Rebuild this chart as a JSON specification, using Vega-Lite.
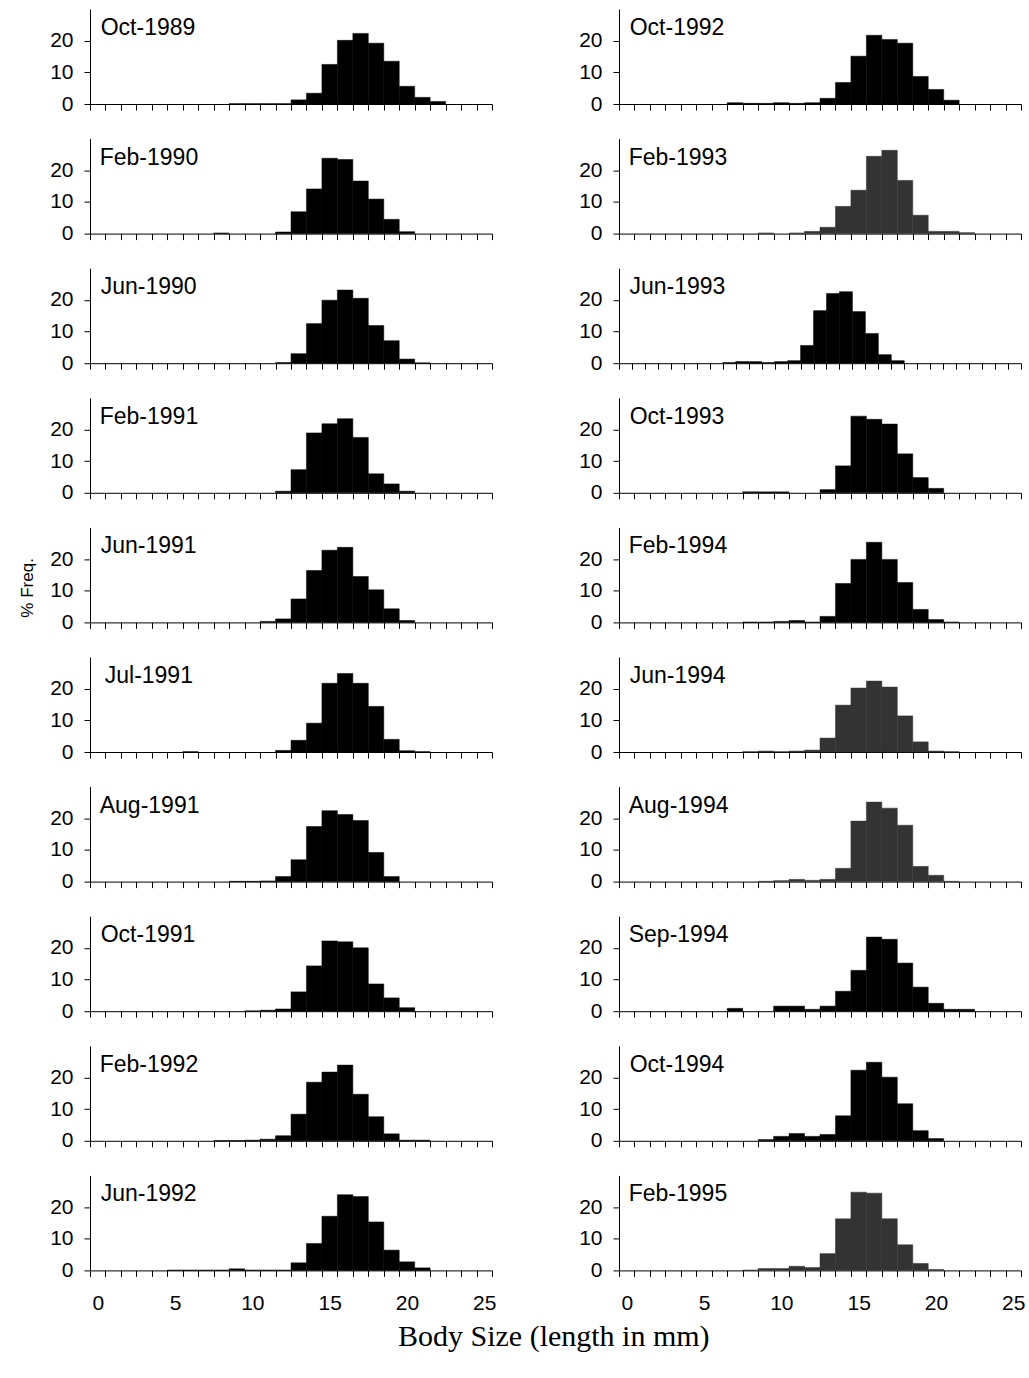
{
"$schema": "https://vega.github.io/schema/vega-lite/v6.json",
"padding": {"left": 18, "top": 9, "right": 5, "bottom": 5},
"autosize": {"type": "pad"},
"background": "white",
"bounds": "flush",
"columns": 2,
"spacing": {"row": 34.6, "column": 127},
"title": {"text": "Body Size (length in mm)", "orient": "bottom", "anchor": "middle", "font": "Liberation Serif", "fontSize": 30, "fontWeight": "normal", "color": "#000", "offset": 8, "dx": 32},
"datasets": {
"labels": [{"panel":"Oct-1989"},{"panel":"Feb-1990"},{"panel":"Jun-1990"},{"panel":"Feb-1991"},{"panel":"Jun-1991"},{"panel":"Jul-1991"},{"panel":"Aug-1991"},{"panel":"Oct-1991"},{"panel":"Feb-1992"},{"panel":"Jun-1992"},{"panel":"Oct-1992"},{"panel":"Feb-1993"},{"panel":"Jun-1993"},{"panel":"Oct-1993"},{"panel":"Feb-1994"},{"panel":"Jun-1994"},{"panel":"Aug-1994"},{"panel":"Sep-1994"},{"panel":"Oct-1994"},{"panel":"Feb-1995"}],
"hist": [
{"panel":"Oct-1989","size":9,"pct":0.1},{"panel":"Oct-1989","size":10,"pct":0.1},{"panel":"Oct-1989","size":11,"pct":0.1},{"panel":"Oct-1989","size":12,"pct":0.1},{"panel":"Oct-1989","size":13,"pct":1.3},{"panel":"Oct-1989","size":14,"pct":3.4},{"panel":"Oct-1989","size":15,"pct":12.5},{"panel":"Oct-1989","size":16,"pct":20.1},{"panel":"Oct-1989","size":17,"pct":22.3},{"panel":"Oct-1989","size":18,"pct":19.2},{"panel":"Oct-1989","size":19,"pct":13.5},{"panel":"Oct-1989","size":20,"pct":5.6},{"panel":"Oct-1989","size":21,"pct":2.1},{"panel":"Oct-1989","size":22,"pct":0.8},
{"panel":"Feb-1990","size":8,"pct":0.2},{"panel":"Feb-1990","size":12,"pct":0.5},{"panel":"Feb-1990","size":13,"pct":6.9},{"panel":"Feb-1990","size":14,"pct":14.1},{"panel":"Feb-1990","size":15,"pct":23.8},{"panel":"Feb-1990","size":16,"pct":23.4},{"panel":"Feb-1990","size":17,"pct":16.6},{"panel":"Feb-1990","size":18,"pct":10.9},{"panel":"Feb-1990","size":19,"pct":4.5},{"panel":"Feb-1990","size":20,"pct":0.6},
{"panel":"Jun-1990","size":12,"pct":0.2},{"panel":"Jun-1990","size":13,"pct":3.0},{"panel":"Jun-1990","size":14,"pct":12.5},{"panel":"Jun-1990","size":15,"pct":19.9},{"panel":"Jun-1990","size":16,"pct":23.1},{"panel":"Jun-1990","size":17,"pct":20.5},{"panel":"Jun-1990","size":18,"pct":11.9},{"panel":"Jun-1990","size":19,"pct":7.1},{"panel":"Jun-1990","size":20,"pct":1.3},{"panel":"Jun-1990","size":21,"pct":0.1},
{"panel":"Feb-1991","size":12,"pct":0.5},{"panel":"Feb-1991","size":13,"pct":7.3},{"panel":"Feb-1991","size":14,"pct":18.9},{"panel":"Feb-1991","size":15,"pct":21.8},{"panel":"Feb-1991","size":16,"pct":23.4},{"panel":"Feb-1991","size":17,"pct":17.5},{"panel":"Feb-1991","size":18,"pct":6.0},{"panel":"Feb-1991","size":19,"pct":2.8},{"panel":"Feb-1991","size":20,"pct":0.5},
{"panel":"Jun-1991","size":11,"pct":0.3},{"panel":"Jun-1991","size":12,"pct":1.1},{"panel":"Jun-1991","size":13,"pct":7.4},{"panel":"Jun-1991","size":14,"pct":16.4},{"panel":"Jun-1991","size":15,"pct":22.8},{"panel":"Jun-1991","size":16,"pct":23.7},{"panel":"Jun-1991","size":17,"pct":14.5},{"panel":"Jun-1991","size":18,"pct":10.3},{"panel":"Jun-1991","size":19,"pct":4.3},{"panel":"Jun-1991","size":20,"pct":0.6},
{"panel":"Jul-1991","size":6,"pct":0.1},{"panel":"Jul-1991","size":12,"pct":0.5},{"panel":"Jul-1991","size":13,"pct":3.7},{"panel":"Jul-1991","size":14,"pct":9.1},{"panel":"Jul-1991","size":15,"pct":21.7},{"panel":"Jul-1991","size":16,"pct":24.8},{"panel":"Jul-1991","size":17,"pct":21.7},{"panel":"Jul-1991","size":18,"pct":14.4},{"panel":"Jul-1991","size":19,"pct":4.0},{"panel":"Jul-1991","size":20,"pct":0.4},{"panel":"Jul-1991","size":21,"pct":0.1},
{"panel":"Aug-1991","size":9,"pct":0.1},{"panel":"Aug-1991","size":10,"pct":0.1},{"panel":"Aug-1991","size":11,"pct":0.2},{"panel":"Aug-1991","size":12,"pct":1.6},{"panel":"Aug-1991","size":13,"pct":6.9},{"panel":"Aug-1991","size":14,"pct":17.4},{"panel":"Aug-1991","size":15,"pct":22.4},{"panel":"Aug-1991","size":16,"pct":21.2},{"panel":"Aug-1991","size":17,"pct":19.3},{"panel":"Aug-1991","size":18,"pct":9.2},{"panel":"Aug-1991","size":19,"pct":1.6},
{"panel":"Oct-1991","size":10,"pct":0.1},{"panel":"Oct-1991","size":11,"pct":0.3},{"panel":"Oct-1991","size":12,"pct":0.7},{"panel":"Oct-1991","size":13,"pct":6.1},{"panel":"Oct-1991","size":14,"pct":14.3},{"panel":"Oct-1991","size":15,"pct":22.2},{"panel":"Oct-1991","size":16,"pct":21.9},{"panel":"Oct-1991","size":17,"pct":20.0},{"panel":"Oct-1991","size":18,"pct":8.6},{"panel":"Oct-1991","size":19,"pct":4.2},{"panel":"Oct-1991","size":20,"pct":1.1},
{"panel":"Feb-1992","size":8,"pct":0.1},{"panel":"Feb-1992","size":9,"pct":0.1},{"panel":"Feb-1992","size":10,"pct":0.2},{"panel":"Feb-1992","size":11,"pct":0.5},{"panel":"Feb-1992","size":12,"pct":1.6},{"panel":"Feb-1992","size":13,"pct":8.4},{"panel":"Feb-1992","size":14,"pct":18.5},{"panel":"Feb-1992","size":15,"pct":21.7},{"panel":"Feb-1992","size":16,"pct":23.9},{"panel":"Feb-1992","size":17,"pct":14.7},{"panel":"Feb-1992","size":18,"pct":7.6},{"panel":"Feb-1992","size":19,"pct":2.2},{"panel":"Feb-1992","size":20,"pct":0.2},{"panel":"Feb-1992","size":21,"pct":0.2},
{"panel":"Jun-1992","size":5,"pct":0.1},{"panel":"Jun-1992","size":6,"pct":0.1},{"panel":"Jun-1992","size":7,"pct":0.1},{"panel":"Jun-1992","size":8,"pct":0.1},{"panel":"Jun-1992","size":9,"pct":0.5},{"panel":"Jun-1992","size":10,"pct":0.1},{"panel":"Jun-1992","size":11,"pct":0.1},{"panel":"Jun-1992","size":12,"pct":0.1},{"panel":"Jun-1992","size":13,"pct":2.4},{"panel":"Jun-1992","size":14,"pct":8.5},{"panel":"Jun-1992","size":15,"pct":17.1},{"panel":"Jun-1992","size":16,"pct":23.9},{"panel":"Jun-1992","size":17,"pct":23.3},{"panel":"Jun-1992","size":18,"pct":15.3},{"panel":"Jun-1992","size":19,"pct":6.4},{"panel":"Jun-1992","size":20,"pct":2.7},{"panel":"Jun-1992","size":21,"pct":0.8},
{"panel":"Oct-1992","size":7,"pct":0.4},{"panel":"Oct-1992","size":8,"pct":0.2},{"panel":"Oct-1992","size":9,"pct":0.2},{"panel":"Oct-1992","size":10,"pct":0.4},{"panel":"Oct-1992","size":11,"pct":0.2},{"panel":"Oct-1992","size":12,"pct":0.4},{"panel":"Oct-1992","size":13,"pct":1.8},{"panel":"Oct-1992","size":14,"pct":6.8},{"panel":"Oct-1992","size":15,"pct":15.1},{"panel":"Oct-1992","size":16,"pct":21.7},{"panel":"Oct-1992","size":17,"pct":20.4},{"panel":"Oct-1992","size":18,"pct":19.2},{"panel":"Oct-1992","size":19,"pct":8.7},{"panel":"Oct-1992","size":20,"pct":4.6},{"panel":"Oct-1992","size":21,"pct":1.2},
{"panel":"Feb-1993","size":9,"pct":0.2},{"panel":"Feb-1993","size":11,"pct":0.2},{"panel":"Feb-1993","size":12,"pct":0.7},{"panel":"Feb-1993","size":13,"pct":2.0},{"panel":"Feb-1993","size":14,"pct":8.6},{"panel":"Feb-1993","size":15,"pct":13.7},{"panel":"Feb-1993","size":16,"pct":24.4},{"panel":"Feb-1993","size":17,"pct":26.3},{"panel":"Feb-1993","size":18,"pct":16.8},{"panel":"Feb-1993","size":19,"pct":5.8},{"panel":"Feb-1993","size":20,"pct":0.7},{"panel":"Feb-1993","size":21,"pct":0.7},{"panel":"Feb-1993","size":22,"pct":0.3},
{"panel":"Jun-1993","size":8,"pct":0.2},{"panel":"Jun-1993","size":9,"pct":0.5},{"panel":"Jun-1993","size":10,"pct":0.5},{"panel":"Jun-1993","size":11,"pct":0.2},{"panel":"Jun-1993","size":12,"pct":0.5},{"panel":"Jun-1993","size":13,"pct":0.8},{"panel":"Jun-1993","size":14,"pct":5.6},{"panel":"Jun-1993","size":15,"pct":16.6},{"panel":"Jun-1993","size":16,"pct":22.0},{"panel":"Jun-1993","size":17,"pct":22.6},{"panel":"Jun-1993","size":18,"pct":16.3},{"panel":"Jun-1993","size":19,"pct":9.4},{"panel":"Jun-1993","size":20,"pct":2.7},{"panel":"Jun-1993","size":21,"pct":0.8},
{"panel":"Oct-1993","size":8,"pct":0.3},{"panel":"Oct-1993","size":9,"pct":0.3},{"panel":"Oct-1993","size":10,"pct":0.3},{"panel":"Oct-1993","size":13,"pct":1.0},{"panel":"Oct-1993","size":14,"pct":8.5},{"panel":"Oct-1993","size":15,"pct":24.2},{"panel":"Oct-1993","size":16,"pct":23.2},{"panel":"Oct-1993","size":17,"pct":21.7},{"panel":"Oct-1993","size":18,"pct":12.3},{"panel":"Oct-1993","size":19,"pct":4.8},{"panel":"Oct-1993","size":20,"pct":1.4},
{"panel":"Feb-1994","size":8,"pct":0.1},{"panel":"Feb-1994","size":9,"pct":0.1},{"panel":"Feb-1994","size":10,"pct":0.3},{"panel":"Feb-1994","size":11,"pct":0.6},{"panel":"Feb-1994","size":12,"pct":0.1},{"panel":"Feb-1994","size":13,"pct":1.9},{"panel":"Feb-1994","size":14,"pct":12.3},{"panel":"Feb-1994","size":15,"pct":19.9},{"panel":"Feb-1994","size":16,"pct":25.3},{"panel":"Feb-1994","size":17,"pct":19.9},{"panel":"Feb-1994","size":18,"pct":12.6},{"panel":"Feb-1994","size":19,"pct":4.1},{"panel":"Feb-1994","size":20,"pct":0.9},{"panel":"Feb-1994","size":21,"pct":0.1},
{"panel":"Jun-1994","size":8,"pct":0.1},{"panel":"Jun-1994","size":9,"pct":0.3},{"panel":"Jun-1994","size":10,"pct":0.1},{"panel":"Jun-1994","size":11,"pct":0.3},{"panel":"Jun-1994","size":12,"pct":0.6},{"panel":"Jun-1994","size":13,"pct":4.4},{"panel":"Jun-1994","size":14,"pct":14.8},{"panel":"Jun-1994","size":15,"pct":20.2},{"panel":"Jun-1994","size":16,"pct":22.4},{"panel":"Jun-1994","size":17,"pct":20.5},{"panel":"Jun-1994","size":18,"pct":11.4},{"panel":"Jun-1994","size":19,"pct":3.2},{"panel":"Jun-1994","size":20,"pct":0.3},{"panel":"Jun-1994","size":21,"pct":0.1},
{"panel":"Aug-1994","size":9,"pct":0.1},{"panel":"Aug-1994","size":10,"pct":0.3},{"panel":"Aug-1994","size":11,"pct":0.7},{"panel":"Aug-1994","size":12,"pct":0.4},{"panel":"Aug-1994","size":13,"pct":0.7},{"panel":"Aug-1994","size":14,"pct":4.2},{"panel":"Aug-1994","size":15,"pct":19.1},{"panel":"Aug-1994","size":16,"pct":25.1},{"panel":"Aug-1994","size":17,"pct":23.2},{"panel":"Aug-1994","size":18,"pct":17.8},{"panel":"Aug-1994","size":19,"pct":4.8},{"panel":"Aug-1994","size":20,"pct":2.0},{"panel":"Aug-1994","size":21,"pct":0.1},
{"panel":"Sep-1994","size":7,"pct":0.9},{"panel":"Sep-1994","size":10,"pct":1.6},{"panel":"Sep-1994","size":11,"pct":1.6},{"panel":"Sep-1994","size":12,"pct":0.6},{"panel":"Sep-1994","size":13,"pct":1.6},{"panel":"Sep-1994","size":14,"pct":6.3},{"panel":"Sep-1994","size":15,"pct":12.9},{"panel":"Sep-1994","size":16,"pct":23.4},{"panel":"Sep-1994","size":17,"pct":22.7},{"panel":"Sep-1994","size":18,"pct":15.2},{"panel":"Sep-1994","size":19,"pct":7.6},{"panel":"Sep-1994","size":20,"pct":2.5},{"panel":"Sep-1994","size":21,"pct":0.6},{"panel":"Sep-1994","size":22,"pct":0.6},
{"panel":"Oct-1994","size":9,"pct":0.4},{"panel":"Oct-1994","size":10,"pct":1.4},{"panel":"Oct-1994","size":11,"pct":2.3},{"panel":"Oct-1994","size":12,"pct":1.4},{"panel":"Oct-1994","size":13,"pct":2.0},{"panel":"Oct-1994","size":14,"pct":7.9},{"panel":"Oct-1994","size":15,"pct":22.3},{"panel":"Oct-1994","size":16,"pct":24.8},{"panel":"Oct-1994","size":17,"pct":20.1},{"panel":"Oct-1994","size":18,"pct":11.7},{"panel":"Oct-1994","size":19,"pct":3.2},{"panel":"Oct-1994","size":20,"pct":0.7},
{"panel":"Feb-1995","size":8,"pct":0.1},{"panel":"Feb-1995","size":9,"pct":0.6},{"panel":"Feb-1995","size":10,"pct":0.6},{"panel":"Feb-1995","size":11,"pct":1.3},{"panel":"Feb-1995","size":12,"pct":0.9},{"panel":"Feb-1995","size":13,"pct":5.3},{"panel":"Feb-1995","size":14,"pct":16.3},{"panel":"Feb-1995","size":15,"pct":24.7},{"panel":"Feb-1995","size":16,"pct":24.4},{"panel":"Feb-1995","size":17,"pct":16.3},{"panel":"Feb-1995","size":18,"pct":8.1},{"panel":"Feb-1995","size":19,"pct":2.2},{"panel":"Feb-1995","size":20,"pct":0.3}
]
},
"concat": [
{"width":402,"height":95,"layer":[
 {"data":{"name":"hist"},"transform":[{"filter":"datum.panel === 'Oct-1989'"}],"mark":{"type":"bar","color":"#000","stroke":"#000","strokeWidth":0.5},
  "encoding":{"x":{"field":"size","type":"ordinal","scale":{"domain":[0,1,2,3,4,5,6,7,8,9,10,11,12,13,14,15,16,17,18,19,20,21,22,23,24,25]},"axis":{"labels":false,"title":null}},
   "y":{"field":"pct","type":"quantitative","scale":{"domain":[0,30],"nice":false},"axis":{"values":[0,10,20],"title":null}}}},
 {"data":{"name":"labels"},"transform":[{"filter":"datum.panel === 'Oct-1989'"}],"mark":{"type":"text","align":"left","baseline":"middle","dx":3},
  "encoding":{"x":{"datum":0,"type":"ordinal"},"y":{"datum":24,"type":"quantitative"},"text":{"field":"panel"}}}]},
{"width":402,"height":95,"layer":[
 {"data":{"name":"hist"},"transform":[{"filter":"datum.panel === 'Oct-1992'"}],"mark":{"type":"bar","color":"#000","stroke":"#000","strokeWidth":0.5},
  "encoding":{"x":{"field":"size","type":"ordinal","scale":{"domain":[0,1,2,3,4,5,6,7,8,9,10,11,12,13,14,15,16,17,18,19,20,21,22,23,24,25]},"axis":{"labels":false,"title":null}},
   "y":{"field":"pct","type":"quantitative","scale":{"domain":[0,30],"nice":false},"axis":{"values":[0,10,20],"title":null}}}},
 {"data":{"name":"labels"},"transform":[{"filter":"datum.panel === 'Oct-1992'"}],"mark":{"type":"text","align":"left","baseline":"middle","dx":3},
  "encoding":{"x":{"datum":0,"type":"ordinal"},"y":{"datum":24,"type":"quantitative"},"text":{"field":"panel"}}}]},
{"width":402,"height":95,"layer":[
 {"data":{"name":"hist"},"transform":[{"filter":"datum.panel === 'Feb-1990'"}],"mark":{"type":"bar","color":"#000","stroke":"#000","strokeWidth":0.5},
  "encoding":{"x":{"field":"size","type":"ordinal","scale":{"domain":[0,1,2,3,4,5,6,7,8,9,10,11,12,13,14,15,16,17,18,19,20,21,22,23,24,25]},"axis":{"labels":false,"title":null}},
   "y":{"field":"pct","type":"quantitative","scale":{"domain":[0,30],"nice":false},"axis":{"values":[0,10,20],"title":null}}}},
 {"data":{"name":"labels"},"transform":[{"filter":"datum.panel === 'Feb-1990'"}],"mark":{"type":"text","align":"left","baseline":"middle","dx":2},
  "encoding":{"x":{"datum":0,"type":"ordinal"},"y":{"datum":24,"type":"quantitative"},"text":{"field":"panel"}}}]},
{"width":402,"height":95,"layer":[
 {"data":{"name":"hist"},"transform":[{"filter":"datum.panel === 'Feb-1993'"}],"mark":{"type":"bar","color":"#333333","stroke":"#333333","strokeWidth":0.5},
  "encoding":{"x":{"field":"size","type":"ordinal","scale":{"domain":[0,1,2,3,4,5,6,7,8,9,10,11,12,13,14,15,16,17,18,19,20,21,22,23,24,25]},"axis":{"labels":false,"title":null}},
   "y":{"field":"pct","type":"quantitative","scale":{"domain":[0,30],"nice":false},"axis":{"values":[0,10,20],"title":null}}}},
 {"data":{"name":"labels"},"transform":[{"filter":"datum.panel === 'Feb-1993'"}],"mark":{"type":"text","align":"left","baseline":"middle","dx":2},
  "encoding":{"x":{"datum":0,"type":"ordinal"},"y":{"datum":24,"type":"quantitative"},"text":{"field":"panel"}}}]},
{"width":402,"height":95,"layer":[
 {"data":{"name":"hist"},"transform":[{"filter":"datum.panel === 'Jun-1990'"}],"mark":{"type":"bar","color":"#000","stroke":"#000","strokeWidth":0.5},
  "encoding":{"x":{"field":"size","type":"ordinal","scale":{"domain":[0,1,2,3,4,5,6,7,8,9,10,11,12,13,14,15,16,17,18,19,20,21,22,23,24,25]},"axis":{"labels":false,"title":null}},
   "y":{"field":"pct","type":"quantitative","scale":{"domain":[0,30],"nice":false},"axis":{"values":[0,10,20],"title":null}}}},
 {"data":{"name":"labels"},"transform":[{"filter":"datum.panel === 'Jun-1990'"}],"mark":{"type":"text","align":"left","baseline":"middle","dx":3},
  "encoding":{"x":{"datum":0,"type":"ordinal"},"y":{"datum":24,"type":"quantitative"},"text":{"field":"panel"}}}]},
{"width":402,"height":95,"layer":[
 {"data":{"name":"hist"},"transform":[{"filter":"datum.panel === 'Jun-1993'"}],"mark":{"type":"bar","color":"#000","stroke":"#000","strokeWidth":0.5},
  "encoding":{"x":{"field":"size","type":"ordinal","scale":{"domain":[0,1,2,3,4,5,6,7,8,9,10,11,12,13,14,15,16,17,18,19,20,21,22,23,24,25,26,27,28,29,30]},"axis":{"labels":false,"title":null}},
   "y":{"field":"pct","type":"quantitative","scale":{"domain":[0,30],"nice":false},"axis":{"values":[0,10,20],"title":null}}}},
 {"data":{"name":"labels"},"transform":[{"filter":"datum.panel === 'Jun-1993'"}],"mark":{"type":"text","align":"left","baseline":"middle","dx":4},
  "encoding":{"x":{"datum":0,"type":"ordinal"},"y":{"datum":24,"type":"quantitative"},"text":{"field":"panel"}}}]},
{"width":402,"height":95,"layer":[
 {"data":{"name":"hist"},"transform":[{"filter":"datum.panel === 'Feb-1991'"}],"mark":{"type":"bar","color":"#000","stroke":"#000","strokeWidth":0.5},
  "encoding":{"x":{"field":"size","type":"ordinal","scale":{"domain":[0,1,2,3,4,5,6,7,8,9,10,11,12,13,14,15,16,17,18,19,20,21,22,23,24,25]},"axis":{"labels":false,"title":null}},
   "y":{"field":"pct","type":"quantitative","scale":{"domain":[0,30],"nice":false},"axis":{"values":[0,10,20],"title":null}}}},
 {"data":{"name":"labels"},"transform":[{"filter":"datum.panel === 'Feb-1991'"}],"mark":{"type":"text","align":"left","baseline":"middle","dx":2},
  "encoding":{"x":{"datum":0,"type":"ordinal"},"y":{"datum":24,"type":"quantitative"},"text":{"field":"panel"}}}]},
{"width":402,"height":95,"layer":[
 {"data":{"name":"hist"},"transform":[{"filter":"datum.panel === 'Oct-1993'"}],"mark":{"type":"bar","color":"#000","stroke":"#000","strokeWidth":0.5},
  "encoding":{"x":{"field":"size","type":"ordinal","scale":{"domain":[0,1,2,3,4,5,6,7,8,9,10,11,12,13,14,15,16,17,18,19,20,21,22,23,24,25]},"axis":{"labels":false,"title":null}},
   "y":{"field":"pct","type":"quantitative","scale":{"domain":[0,30],"nice":false},"axis":{"values":[0,10,20],"title":null}}}},
 {"data":{"name":"labels"},"transform":[{"filter":"datum.panel === 'Oct-1993'"}],"mark":{"type":"text","align":"left","baseline":"middle","dx":3},
  "encoding":{"x":{"datum":0,"type":"ordinal"},"y":{"datum":24,"type":"quantitative"},"text":{"field":"panel"}}}]},
{"width":402,"height":95,"layer":[
 {"data":{"name":"hist"},"transform":[{"filter":"datum.panel === 'Jun-1991'"}],"mark":{"type":"bar","color":"#000","stroke":"#000","strokeWidth":0.5},
  "encoding":{"x":{"field":"size","type":"ordinal","scale":{"domain":[0,1,2,3,4,5,6,7,8,9,10,11,12,13,14,15,16,17,18,19,20,21,22,23,24,25]},"axis":{"labels":false,"title":null}},
   "y":{"field":"pct","type":"quantitative","scale":{"domain":[0,30],"nice":false},"axis":{"values":[0,10,20],"title":"% Freq.","titleFontSize":17,"titlePadding":13,"titleY":60}}}},
 {"data":{"name":"labels"},"transform":[{"filter":"datum.panel === 'Jun-1991'"}],"mark":{"type":"text","align":"left","baseline":"middle","dx":3},
  "encoding":{"x":{"datum":0,"type":"ordinal"},"y":{"datum":24,"type":"quantitative"},"text":{"field":"panel"}}}]},
{"width":402,"height":95,"layer":[
 {"data":{"name":"hist"},"transform":[{"filter":"datum.panel === 'Feb-1994'"}],"mark":{"type":"bar","color":"#000","stroke":"#000","strokeWidth":0.5},
  "encoding":{"x":{"field":"size","type":"ordinal","scale":{"domain":[0,1,2,3,4,5,6,7,8,9,10,11,12,13,14,15,16,17,18,19,20,21,22,23,24,25]},"axis":{"labels":false,"title":null}},
   "y":{"field":"pct","type":"quantitative","scale":{"domain":[0,30],"nice":false},"axis":{"values":[0,10,20],"title":null}}}},
 {"data":{"name":"labels"},"transform":[{"filter":"datum.panel === 'Feb-1994'"}],"mark":{"type":"text","align":"left","baseline":"middle","dx":2},
  "encoding":{"x":{"datum":0,"type":"ordinal"},"y":{"datum":24,"type":"quantitative"},"text":{"field":"panel"}}}]},
{"width":402,"height":95,"layer":[
 {"data":{"name":"hist"},"transform":[{"filter":"datum.panel === 'Jul-1991'"}],"mark":{"type":"bar","color":"#000","stroke":"#000","strokeWidth":0.5},
  "encoding":{"x":{"field":"size","type":"ordinal","scale":{"domain":[0,1,2,3,4,5,6,7,8,9,10,11,12,13,14,15,16,17,18,19,20,21,22,23,24,25]},"axis":{"labels":false,"title":null}},
   "y":{"field":"pct","type":"quantitative","scale":{"domain":[0,30],"nice":false},"axis":{"values":[0,10,20],"title":null}}}},
 {"data":{"name":"labels"},"transform":[{"filter":"datum.panel === 'Jul-1991'"}],"mark":{"type":"text","align":"left","baseline":"middle","dx":7},
  "encoding":{"x":{"datum":0,"type":"ordinal"},"y":{"datum":24,"type":"quantitative"},"text":{"field":"panel"}}}]},
{"width":402,"height":95,"layer":[
 {"data":{"name":"hist"},"transform":[{"filter":"datum.panel === 'Jun-1994'"}],"mark":{"type":"bar","color":"#333333","stroke":"#333333","strokeWidth":0.5},
  "encoding":{"x":{"field":"size","type":"ordinal","scale":{"domain":[0,1,2,3,4,5,6,7,8,9,10,11,12,13,14,15,16,17,18,19,20,21,22,23,24,25]},"axis":{"labels":false,"title":null}},
   "y":{"field":"pct","type":"quantitative","scale":{"domain":[0,30],"nice":false},"axis":{"values":[0,10,20],"title":null}}}},
 {"data":{"name":"labels"},"transform":[{"filter":"datum.panel === 'Jun-1994'"}],"mark":{"type":"text","align":"left","baseline":"middle","dx":3},
  "encoding":{"x":{"datum":0,"type":"ordinal"},"y":{"datum":24,"type":"quantitative"},"text":{"field":"panel"}}}]},
{"width":402,"height":95,"layer":[
 {"data":{"name":"hist"},"transform":[{"filter":"datum.panel === 'Aug-1991'"}],"mark":{"type":"bar","color":"#000","stroke":"#000","strokeWidth":0.5},
  "encoding":{"x":{"field":"size","type":"ordinal","scale":{"domain":[0,1,2,3,4,5,6,7,8,9,10,11,12,13,14,15,16,17,18,19,20,21,22,23,24,25]},"axis":{"labels":false,"title":null}},
   "y":{"field":"pct","type":"quantitative","scale":{"domain":[0,30],"nice":false},"axis":{"values":[0,10,20],"title":null}}}},
 {"data":{"name":"labels"},"transform":[{"filter":"datum.panel === 'Aug-1991'"}],"mark":{"type":"text","align":"left","baseline":"middle","dx":2},
  "encoding":{"x":{"datum":0,"type":"ordinal"},"y":{"datum":24,"type":"quantitative"},"text":{"field":"panel"}}}]},
{"width":402,"height":95,"layer":[
 {"data":{"name":"hist"},"transform":[{"filter":"datum.panel === 'Aug-1994'"}],"mark":{"type":"bar","color":"#333333","stroke":"#333333","strokeWidth":0.5},
  "encoding":{"x":{"field":"size","type":"ordinal","scale":{"domain":[0,1,2,3,4,5,6,7,8,9,10,11,12,13,14,15,16,17,18,19,20,21,22,23,24,25]},"axis":{"labels":false,"title":null}},
   "y":{"field":"pct","type":"quantitative","scale":{"domain":[0,30],"nice":false},"axis":{"values":[0,10,20],"title":null}}}},
 {"data":{"name":"labels"},"transform":[{"filter":"datum.panel === 'Aug-1994'"}],"mark":{"type":"text","align":"left","baseline":"middle","dx":2},
  "encoding":{"x":{"datum":0,"type":"ordinal"},"y":{"datum":24,"type":"quantitative"},"text":{"field":"panel"}}}]},
{"width":402,"height":95,"layer":[
 {"data":{"name":"hist"},"transform":[{"filter":"datum.panel === 'Oct-1991'"}],"mark":{"type":"bar","color":"#000","stroke":"#000","strokeWidth":0.5},
  "encoding":{"x":{"field":"size","type":"ordinal","scale":{"domain":[0,1,2,3,4,5,6,7,8,9,10,11,12,13,14,15,16,17,18,19,20,21,22,23,24,25]},"axis":{"labels":false,"title":null}},
   "y":{"field":"pct","type":"quantitative","scale":{"domain":[0,30],"nice":false},"axis":{"values":[0,10,20],"title":null}}}},
 {"data":{"name":"labels"},"transform":[{"filter":"datum.panel === 'Oct-1991'"}],"mark":{"type":"text","align":"left","baseline":"middle","dx":3},
  "encoding":{"x":{"datum":0,"type":"ordinal"},"y":{"datum":24,"type":"quantitative"},"text":{"field":"panel"}}}]},
{"width":402,"height":95,"layer":[
 {"data":{"name":"hist"},"transform":[{"filter":"datum.panel === 'Sep-1994'"}],"mark":{"type":"bar","color":"#000","stroke":"#000","strokeWidth":0.5},
  "encoding":{"x":{"field":"size","type":"ordinal","scale":{"domain":[0,1,2,3,4,5,6,7,8,9,10,11,12,13,14,15,16,17,18,19,20,21,22,23,24,25]},"axis":{"labels":false,"title":null}},
   "y":{"field":"pct","type":"quantitative","scale":{"domain":[0,30],"nice":false},"axis":{"values":[0,10,20],"title":null}}}},
 {"data":{"name":"labels"},"transform":[{"filter":"datum.panel === 'Sep-1994'"}],"mark":{"type":"text","align":"left","baseline":"middle","dx":2},
  "encoding":{"x":{"datum":0,"type":"ordinal"},"y":{"datum":24,"type":"quantitative"},"text":{"field":"panel"}}}]},
{"width":402,"height":95,"layer":[
 {"data":{"name":"hist"},"transform":[{"filter":"datum.panel === 'Feb-1992'"}],"mark":{"type":"bar","color":"#000","stroke":"#000","strokeWidth":0.5},
  "encoding":{"x":{"field":"size","type":"ordinal","scale":{"domain":[0,1,2,3,4,5,6,7,8,9,10,11,12,13,14,15,16,17,18,19,20,21,22,23,24,25]},"axis":{"labels":false,"title":null}},
   "y":{"field":"pct","type":"quantitative","scale":{"domain":[0,30],"nice":false},"axis":{"values":[0,10,20],"title":null}}}},
 {"data":{"name":"labels"},"transform":[{"filter":"datum.panel === 'Feb-1992'"}],"mark":{"type":"text","align":"left","baseline":"middle","dx":2},
  "encoding":{"x":{"datum":0,"type":"ordinal"},"y":{"datum":24,"type":"quantitative"},"text":{"field":"panel"}}}]},
{"width":402,"height":95,"layer":[
 {"data":{"name":"hist"},"transform":[{"filter":"datum.panel === 'Oct-1994'"}],"mark":{"type":"bar","color":"#000","stroke":"#000","strokeWidth":0.5},
  "encoding":{"x":{"field":"size","type":"ordinal","scale":{"domain":[0,1,2,3,4,5,6,7,8,9,10,11,12,13,14,15,16,17,18,19,20,21,22,23,24,25]},"axis":{"labels":false,"title":null}},
   "y":{"field":"pct","type":"quantitative","scale":{"domain":[0,30],"nice":false},"axis":{"values":[0,10,20],"title":null}}}},
 {"data":{"name":"labels"},"transform":[{"filter":"datum.panel === 'Oct-1994'"}],"mark":{"type":"text","align":"left","baseline":"middle","dx":3},
  "encoding":{"x":{"datum":0,"type":"ordinal"},"y":{"datum":24,"type":"quantitative"},"text":{"field":"panel"}}}]},
{"width":402,"height":95,"layer":[
 {"data":{"name":"hist"},"transform":[{"filter":"datum.panel === 'Jun-1992'"}],"mark":{"type":"bar","color":"#000","stroke":"#000","strokeWidth":0.5},
  "encoding":{"x":{"field":"size","type":"ordinal","scale":{"domain":[0,1,2,3,4,5,6,7,8,9,10,11,12,13,14,15,16,17,18,19,20,21,22,23,24,25]},"axis":{"labelExpr":"datum.value % 5 === 0 ? datum.label : ''","title":null}},
   "y":{"field":"pct","type":"quantitative","scale":{"domain":[0,30],"nice":false},"axis":{"values":[0,10,20],"title":null}}}},
 {"data":{"name":"labels"},"transform":[{"filter":"datum.panel === 'Jun-1992'"}],"mark":{"type":"text","align":"left","baseline":"middle","dx":3},
  "encoding":{"x":{"datum":0,"type":"ordinal"},"y":{"datum":24,"type":"quantitative"},"text":{"field":"panel"}}}]},
{"width":402,"height":95,"layer":[
 {"data":{"name":"hist"},"transform":[{"filter":"datum.panel === 'Feb-1995'"}],"mark":{"type":"bar","color":"#333333","stroke":"#333333","strokeWidth":0.5},
  "encoding":{"x":{"field":"size","type":"ordinal","scale":{"domain":[0,1,2,3,4,5,6,7,8,9,10,11,12,13,14,15,16,17,18,19,20,21,22,23,24,25]},"axis":{"labelExpr":"datum.value % 5 === 0 ? datum.label : ''","title":null}},
   "y":{"field":"pct","type":"quantitative","scale":{"domain":[0,30],"nice":false},"axis":{"values":[0,10,20],"title":null}}}},
 {"data":{"name":"labels"},"transform":[{"filter":"datum.panel === 'Feb-1995'"}],"mark":{"type":"text","align":"left","baseline":"middle","dx":2},
  "encoding":{"x":{"datum":0,"type":"ordinal"},"y":{"datum":24,"type":"quantitative"},"text":{"field":"panel"}}}]}
],
"config": {
 "view": {"stroke": null},
 "font": "Liberation Sans",
 "scale": {"bandPaddingInner": 0, "bandPaddingOuter": 0, "barBandPaddingInner": 0},
 "axis": {"domainColor": "#000", "tickColor": "#000", "labelColor": "#000", "labelFont": "Liberation Sans", "labelFontSize": 21, "tickSize": 6, "grid": false, "domainWidth": 1, "tickWidth": 1, "titleFont": "Liberation Sans", "titleFontWeight": "normal", "titleColor": "#000"},
 "axisX": {"tickBand": "extent", "labelPadding": 16.5, "labelAngle": 0},
 "axisY": {"labelPadding": 11},
 "text": {"font": "Liberation Sans", "fontSize": 23, "color": "#000"}
}
}
